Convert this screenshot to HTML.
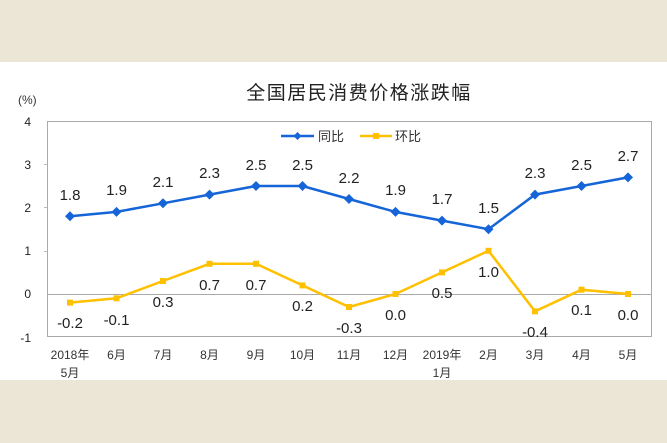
<!DOCTYPE html>
<html><head><meta charset="utf-8"><style>
body{margin:0;width:667px;height:443px;background:#ebe6d6;overflow:hidden}
svg{display:block}
text{font-family:"Liberation Sans","Noto Sans CJK SC",sans-serif}
</style></head><body>
<svg width="667" height="443" viewBox="0 0 667 443">
<rect x="0" y="62" width="667" height="318" fill="#fff"/>
<text x="359" y="99" font-size="19" text-anchor="middle" fill="#222" letter-spacing="1.5">全国居民消费价格涨跌幅</text>
<text x="18" y="104" font-size="12" fill="#333">(%)</text>
<rect x="47.5" y="121.5" width="604" height="215" fill="none" stroke="#aaa" stroke-width="1"/>
<line x1="47" y1="294.5" x2="652" y2="294.5" stroke="#aaa"/>
<g font-size="12" fill="#222" text-anchor="end">
<text x="31" y="126">4</text><text x="31" y="169">3</text><text x="31" y="212">2</text><text x="31" y="255">1</text><text x="31" y="298">0</text><text x="31" y="342">-1</text>
</g>
<g stroke="#bbb"><line x1="44" y1="164.5" x2="47" y2="164.5"/><line x1="44" y1="207.5" x2="47" y2="207.5"/><line x1="44" y1="251.5" x2="47" y2="251.5"/></g>
<line x1="281" y1="136" x2="314" y2="136" stroke="#1565d8" stroke-width="2.5"/>
<path d="M297.5 132l4 4-4 4-4-4z" fill="#1565d8"/>
<text x="318" y="141" font-size="13" fill="#333">同比</text>
<line x1="360" y1="136" x2="392" y2="136" stroke="#ffc000" stroke-width="2.5"/>
<rect x="373" y="133" width="6" height="6" fill="#ffc000"/>
<text x="395" y="141" font-size="13" fill="#333">环比</text>
<polyline fill="none" stroke="#1565d8" stroke-width="2.5" points="70,216.2 116.5,211.9 163,203.3 209.5,194.6 256,186 302.5,186 349,199 395.5,211.9 442,220.6 488.5,229.2 535,194.6 581.5,186 628,177.4"/>
<g fill="#1565d8">
<path d="M70 211.2l5 5-5 5-5-5z"/><path d="M116.5 206.9l5 5-5 5-5-5z"/><path d="M163 198.3l5 5-5 5-5-5z"/><path d="M209.5 189.6l5 5-5 5-5-5z"/><path d="M256 181l5 5-5 5-5-5z"/><path d="M302.5 181l5 5-5 5-5-5z"/><path d="M349 194l5 5-5 5-5-5z"/><path d="M395.5 206.9l5 5-5 5-5-5z"/><path d="M442 215.6l5 5-5 5-5-5z"/><path d="M488.5 224.2l5 5-5 5-5-5z"/><path d="M535 189.6l5 5-5 5-5-5z"/><path d="M581.5 181l5 5-5 5-5-5z"/><path d="M628 172.4l5 5-5 5-5-5z"/>
</g>
<polyline fill="none" stroke="#ffc000" stroke-width="2.5" points="70,302.6 116.5,298.3 163,281 209.5,263.8 256,263.8 302.5,285.4 349,307 395.5,294 442,272.4 488.5,250.8 535,311.3 581.5,289.7 628,294"/>
<g fill="#ffc000">
<rect x="67" y="299.6" width="6" height="6"/><rect x="113.5" y="295.3" width="6" height="6"/><rect x="160" y="278" width="6" height="6"/><rect x="206.5" y="260.8" width="6" height="6"/><rect x="253" y="260.8" width="6" height="6"/><rect x="299.5" y="282.4" width="6" height="6"/><rect x="346" y="304" width="6" height="6"/><rect x="392.5" y="291" width="6" height="6"/><rect x="439" y="269.4" width="6" height="6"/><rect x="485.5" y="247.8" width="6" height="6"/><rect x="532" y="308.3" width="6" height="6"/><rect x="578.5" y="286.7" width="6" height="6"/><rect x="625" y="291" width="6" height="6"/>
</g>
<g font-size="15" fill="#222" text-anchor="middle">
<text x="70" y="200">1.8</text><text x="116.5" y="195">1.9</text><text x="163" y="187">2.1</text><text x="209.5" y="178">2.3</text><text x="256" y="170">2.5</text><text x="302.5" y="170">2.5</text><text x="349" y="183">2.2</text><text x="395.5" y="195">1.9</text><text x="442" y="204">1.7</text><text x="488.5" y="213">1.5</text><text x="535" y="178">2.3</text><text x="581.5" y="170">2.5</text><text x="628" y="161">2.7</text>
<text x="70" y="328">-0.2</text><text x="116.5" y="325">-0.1</text><text x="163" y="307">0.3</text><text x="209.5" y="290">0.7</text><text x="256" y="290">0.7</text><text x="302.5" y="311">0.2</text><text x="349" y="333">-0.3</text><text x="395.5" y="320">0.0</text><text x="442" y="298">0.5</text><text x="488.5" y="277">1.0</text><text x="535" y="337">-0.4</text><text x="581.5" y="315">0.1</text><text x="628" y="320">0.0</text>
</g>
<g font-size="12" fill="#333" text-anchor="middle" font-family="'Liberation Serif','Noto Serif CJK SC',serif">
<text x="70" y="359">2018年</text><text x="70" y="377">5月</text><text x="116.5" y="359">6月</text><text x="163" y="359">7月</text><text x="209.5" y="359">8月</text><text x="256" y="359">9月</text><text x="302.5" y="359">10月</text><text x="349" y="359">11月</text><text x="395.5" y="359">12月</text><text x="442" y="359">2019年</text><text x="442" y="377">1月</text><text x="488.5" y="359">2月</text><text x="535" y="359">3月</text><text x="581.5" y="359">4月</text><text x="628" y="359">5月</text>
</g>
</svg>
</body></html>
